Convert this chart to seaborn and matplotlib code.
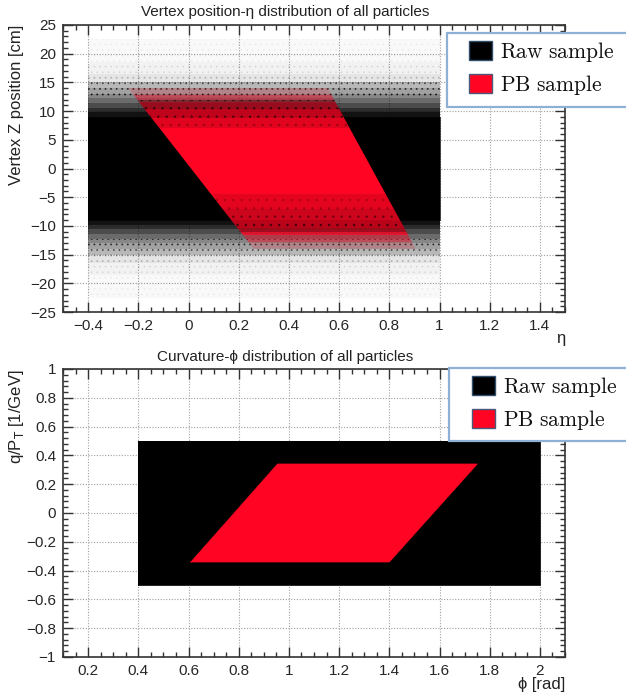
import numpy as np
import pandas as pd
import seaborn as sns
import matplotlib
matplotlib.use("Agg")
import matplotlib.pyplot as plt
from matplotlib.patches import Patch, Rectangle, Polygon
from matplotlib.ticker import MultipleLocator, FuncFormatter
from matplotlib.font_manager import FontProperties

# ---------------- data ----------------
# Top panel: vertex Z vs eta
raw_eta_range = [-0.4, 1.0]
raw_core_z = [-9.0, 9.0]
raw_band_lo = [9.0, 9.8, 10.6, 11.4, 12.2, 13.0, 14.0, 15.0, 16.5, 18.5]   # |Z| band edges
raw_band_hi = [9.8, 10.6, 11.4, 12.2, 13.0, 14.0, 15.0, 16.5, 18.5, 22.5]
raw_band_alpha = [0.93, 0.82, 0.70, 0.58, 0.47, 0.37, 0.28, 0.10, 0.05, 0.025]

# PB sample: outer parallelogram (fuzzy edges) and Z bands with density
pb_outer_eta = [-0.24, 0.555, 0.905, 0.26]
pb_outer_z = [14.0, 14.0, -14.0, -14.0]
pb_band_lo = [-10.4, 10.4, 11.6, 12.8, -11.6, -12.8, -14.0]
pb_band_hi = [10.4, 11.6, 12.8, 14.0, -10.4, -11.6, -12.8]
pb_band_alpha = [1.0, 0.80, 0.45, 0.18, 0.80, 0.45, 0.18]
pb_dark_lo = [7.0, 8.8, 10.4, -7.0, -9.0, -11.0]
pb_dark_hi = [8.8, 10.4, 12.0, -4.5, -7.0, -9.0]
pb_dark_alpha = [0.12, 0.25, 0.30, 0.10, 0.2, 0.28]

# Bottom panel: q/pT vs phi
raw_phi = [0.4, 2.0, 2.0, 0.4]
raw_q = [-0.5, -0.5, 0.5, 0.5]
pb_phi = [0.61, 1.40, 1.75, 0.955]
pb_q = [-0.34, -0.34, 0.34, 0.34]

legend_labels = ["Raw sample", "PB sample"]
RED = "#ff0523"

# ---------------- style ----------------
sns.set_theme(style="ticks")
plt.rcParams["font.family"] = ["Liberation Sans", "DejaVu Sans"]
plt.rcParams["axes.edgecolor"] = "#333333"
plt.rcParams["xtick.color"] = "#333333"
plt.rcParams["ytick.color"] = "#333333"
plt.rcParams["hatch.linewidth"] = 0.6

W, H = 626, 698
fig = plt.figure(figsize=(W / 100, H / 100), dpi=100)


def fc(x0, y0, x1, y1):
    return [x0 / W, 1 - y1 / H, (x1 - x0) / W, (y1 - y0) / H]


ax1 = fig.add_axes(fc(63, 25, 565, 312))
ax2 = fig.add_axes(fc(63, 369, 565, 657))

fmt = FuncFormatter(lambda v, p: ("%g" % round(v, 2)).replace("-", "\u2212"))


def style_axis(ax, xlim, ylim, xmaj, xmin, ymaj, ymin):
    ax.set_xlim(*xlim)
    ax.set_ylim(*ylim)
    ax.xaxis.set_major_locator(MultipleLocator(xmaj))
    ax.xaxis.set_minor_locator(MultipleLocator(xmin))
    ax.yaxis.set_major_locator(MultipleLocator(ymaj))
    ax.yaxis.set_minor_locator(MultipleLocator(ymin))
    ax.xaxis.set_major_formatter(fmt)
    ax.yaxis.set_major_formatter(fmt)
    ax.tick_params(which="both", direction="in", top=True, right=True,
                   labelsize=11, labelcolor="#262626", width=1.0)
    ax.tick_params(which="major", length=7, pad=5)
    ax.tick_params(which="minor", length=3.5)
    ax.grid(True, which="major", color="#a0a0a0", linestyle=(0, (1, 1.5)), linewidth=0.8)
    ax.set_axisbelow(True)
    for s in ax.spines.values():
        s.set_linewidth(1.2)
        s.set_visible(True)
    ax.set_xlabel("")
    ax.set_ylabel("")


def closed(x, y):
    x = list(x) + [x[0]]
    y = list(y) + [y[0]]
    return pd.DataFrame({"x": x, "y": y})


# ---------- top panel ----------
core = closed([raw_eta_range[0], raw_eta_range[1], raw_eta_range[1], raw_eta_range[0]],
              [raw_core_z[0], raw_core_z[0], raw_core_z[1], raw_core_z[1]])
ax1.fill(core.x, core.y, color="black", lw=0, zorder=2)
sns.lineplot(data=core, x="x", y="y", sort=False, estimator=None, color="black",
             lw=0.5, ax=ax1, zorder=2)
for sign in (1, -1):
    for lo, hi, a in zip(raw_band_lo, raw_band_hi, raw_band_alpha):
        ax1.fill_between(raw_eta_range, sign * lo, sign * hi, color="black",
                         alpha=a, lw=0, zorder=2)
        if a < 0.5:
            ax1.fill_between(raw_eta_range, sign * lo, sign * hi, facecolor="none",
                             edgecolor=(0, 0, 0, min(1.0, a * 1.6)), hatch="...",
                             lw=0, zorder=2)

pb_poly = Polygon(np.column_stack([pb_outer_eta, pb_outer_z]), closed=True,
                  transform=ax1.transData, facecolor="none", edgecolor="none")
ax1.add_patch(pb_poly)
for lo, hi, a in zip(pb_band_lo, pb_band_hi, pb_band_alpha):
    f = ax1.fill_between(raw_eta_range, lo, hi, color=RED, alpha=a, lw=0, zorder=3)
    f.set_clip_path(pb_poly)
for lo, hi, a in zip(pb_dark_lo, pb_dark_hi, pb_dark_alpha):
    f = ax1.fill_between(raw_eta_range, lo, hi, color="black", alpha=a, lw=0, zorder=4)
    f.set_clip_path(pb_poly)
    h = ax1.fill_between(raw_eta_range, lo, hi, facecolor="none",
                         edgecolor=(0, 0, 0, min(1.0, a * 1.8)), hatch="..", lw=0, zorder=4)
    h.set_clip_path(pb_poly)

style_axis(ax1, (-0.5, 1.5), (-25, 25), 0.2, 0.05, 5, 1)

# ---------- bottom panel ----------
rb = closed(raw_phi, raw_q)
ax2.fill(rb.x, rb.y, color="black", lw=0, zorder=2)
sns.lineplot(data=rb, x="x", y="y", sort=False, estimator=None, color="black", lw=0.6,
             ax=ax2, zorder=2)
pb = closed(pb_phi, pb_q)
ax2.fill(pb.x, pb.y, color=RED, lw=0, zorder=3)
sns.lineplot(data=pb, x="x", y="y", sort=False, estimator=None, color=RED, lw=0.6,
             ax=ax2, zorder=3)
style_axis(ax2, (0.1, 2.1), (-1, 1), 0.2, 0.05, 0.2, 0.04)

# ---------- texts ----------
tcol = "#222222"
fig.text(285 / W, 1 - 12 / H, "Vertex position-\u03b7 distribution of all particles",
         ha="center", va="center", fontsize=11, color=tcol)
fig.text(285 / W, 1 - 357 / H, "Curvature-\u03d5 distribution of all particles",
         ha="center", va="center", fontsize=11, color=tcol)
fig.text(17 / W, 1 - 25 / H, "Vertex Z position [cm]", rotation=90,
         ha="center", va="top", fontsize=12, color=tcol)
fig.text(17 / W, 1 - 370 / H, r"q/P$_{\mathsf{T}}$ [1/GeV]", rotation=90,
         ha="center", va="top", fontsize=12, color=tcol)
fig.text(565 / W, 1 - 339 / H, "\u03b7", ha="right", va="center", fontsize=12, color=tcol)
fig.text(565 / W, 1 - 685 / H, "\u03d5 [rad]", ha="right", va="center", fontsize=12,
         color=tcol)


# ---------- legends ----------
def add_legend(frame_y0, frame_y1, frame_x0, patch_x, patch_y):
    fig.add_artist(Rectangle((frame_x0 / W, 1 - frame_y1 / H), (W + 20 - frame_x0) / W,
                             (frame_y1 - frame_y0) / H, transform=fig.transFigure,
                             facecolor="white", edgecolor="#8db0d4", lw=1.6, zorder=10))
    handles = [Patch(facecolor="black", edgecolor="#2f4f6f", lw=1.0),
               Patch(facecolor=RED, edgecolor="#4a5a7a", lw=1.0)]
    prop = FontProperties(size=15.5, math_fontfamily="cm")
    leg = fig.legend(handles=handles,
                     labels=[r"$\mathrm{Raw\ sample}$", r"$\mathrm{PB\ sample}$"],
                     loc="upper left", bbox_to_anchor=(patch_x / W, 1 - patch_y / H),
                     frameon=False, borderpad=0, borderaxespad=0, prop=prop,
                     handlelength=1.05, handleheight=1.0, handletextpad=0.4,
                     labelspacing=0.4)
    leg.set_zorder(11)
    for t in leg.get_texts():
        t.set_color("#111111")


add_legend(33, 107, 447, 469, 40)
add_legend(368, 441, 449, 472, 375)

fig.savefig("out.png", dpi=100)
